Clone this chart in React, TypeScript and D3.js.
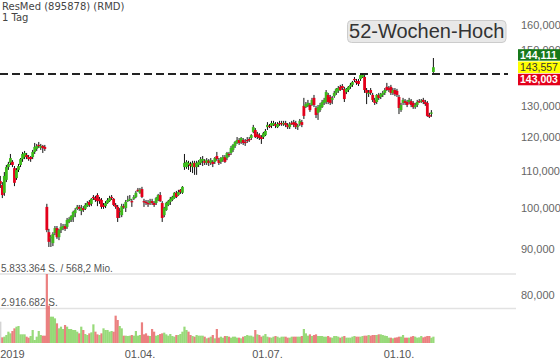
import React from 'react';
import * as d3 from 'd3';

// daily candles, late Dec 2018 .. 25 Oct 2019 (EUR)
const opens = [
  107.2, 106.1, 104.0, 107.5, 111.1, 112.3, 112.6, 110.8, 108.0, 110.3,
  111.7, 113.4, 114.0, 114.6, 114.0, 114.0, 114.0, 115.5, 116.4, 117.6,
  116.7, 117.3, 117.0, 100.3, 94.0, 92.8, 91.4, 93.8, 95.0, 92.8,
  94.5, 95.0, 95.5, 95.3, 96.5, 97.0, 97.7, 98.7, 99.8, 100.3,
  99.3, 100.0, 99.8, 100.5, 101.6, 101.1, 102.9, 102.6, 103.4, 102.4,
  102.1, 100.8, 100.5, 101.3, 101.8, 102.9, 102.4, 100.8, 100.3, 99.3,
  98.2, 100.5, 100.0, 101.8, 102.1, 101.8, 102.4, 102.9, 104.8, 104.0,
  105.0, 101.8, 101.6, 101.3, 101.3, 101.8, 101.3, 101.3, 102.1, 103.4,
  101.3, 98.2, 99.5, 100.8, 101.6, 102.1, 102.6, 104.0, 103.4, 104.8,
  104.0, 111.1, 111.1, 111.7, 112.0, 111.1, 112.3, 111.1, 111.7, 112.3,
  112.9, 112.9, 112.3, 112.9, 112.3, 112.6, 112.6, 114.3, 113.1, 112.6,
  113.1, 114.0, 113.7, 114.9, 115.2, 116.1, 117.3, 118.2, 119.1, 118.5,
  119.1, 118.5, 119.1, 119.4, 119.7, 121.6, 122.2, 120.9, 120.6, 120.0,
  120.0, 120.6, 123.1, 123.5, 123.5, 123.8, 124.1, 123.1, 124.4, 124.4,
  124.1, 124.4, 123.8, 123.1, 124.4, 124.7, 124.4, 123.5, 124.1, 124.7,
  130.0, 129.6, 130.0, 130.3, 130.3, 132.7, 129.3, 127.7, 128.6, 129.6,
  131.0, 131.3, 133.7, 133.0, 132.0, 133.3, 134.4, 135.1, 136.5, 136.8,
  135.8, 134.7, 135.4, 136.5, 137.2, 139.3, 138.6, 138.6, 139.3, 140.0,
  140.0, 135.4, 134.4, 135.4, 133.7, 132.0, 131.3, 133.7, 133.0, 133.7,
  134.4, 136.5, 136.1, 136.5, 134.4, 135.4, 135.1, 133.0, 128.6, 131.0,
  131.6, 131.3, 131.3, 131.6, 131.0, 129.6, 130.3, 131.6, 131.6, 132.0,
  131.3, 131.0, 127.0, 127.7, 141.8,
];

const highs = [
  108.6, 106.9, 109.7, 111.7, 112.6, 114.9, 113.1, 111.4, 110.8, 112.0,
  113.7, 115.5, 115.8, 115.2, 114.6, 114.3, 116.1, 118.2, 117.9, 118.5,
  117.9, 117.6, 117.6, 101.1, 94.8, 93.3, 94.0, 95.5, 95.5, 94.8,
  96.2, 96.0, 96.0, 97.5, 97.7, 98.2, 99.3, 100.0, 100.8, 100.8,
  100.8, 100.5, 101.3, 101.8, 102.1, 102.6, 103.4, 103.2, 103.9, 102.9,
  102.6, 101.3, 101.8, 102.6, 103.2, 103.4, 102.6, 101.3, 100.8, 100.0,
  101.1, 101.1, 102.1, 103.2, 103.4, 102.4, 103.4, 104.5, 105.3, 105.3,
  105.6, 102.4, 102.1, 102.1, 102.4, 102.4, 101.8, 102.9, 103.7, 104.2,
  101.8, 100.3, 101.6, 102.1, 102.9, 103.2, 104.2, 104.5, 104.8, 105.0,
  105.8, 114.9, 113.1, 112.9, 112.6, 112.9, 112.9, 112.9, 113.1, 114.0,
  114.3, 113.4, 113.7, 113.4, 113.7, 113.1, 114.0, 115.5, 113.7, 114.0,
  114.6, 114.6, 115.5, 115.5, 117.3, 117.9, 118.8, 120.0, 119.7, 120.0,
  119.7, 119.4, 120.0, 120.0, 120.9, 123.8, 122.8, 121.6, 121.2, 120.6,
  121.6, 122.5, 124.7, 124.1, 125.1, 125.1, 124.7, 124.7, 125.1, 125.1,
  125.1, 125.1, 124.4, 124.7, 125.1, 125.4, 125.1, 124.1, 125.7, 125.4,
  132.7, 131.3, 132.0, 131.0, 132.7, 133.7, 130.0, 130.3, 131.0, 132.0,
  132.7, 135.4, 134.4, 133.7, 133.3, 135.1, 136.1, 136.8, 137.2, 137.5,
  136.5, 136.1, 136.8, 137.9, 138.6, 140.0, 139.3, 139.3, 141.1, 141.1,
  140.7, 136.1, 135.4, 136.1, 134.4, 132.7, 134.0, 134.4, 134.4, 135.1,
  136.1, 137.9, 136.8, 137.2, 136.1, 136.1, 135.8, 133.7, 131.0, 132.7,
  132.3, 132.0, 132.7, 132.3, 131.6, 131.0, 132.0, 132.3, 132.3, 132.7,
  132.0, 131.6, 127.7, 128.6, 147.0,
];

const lows = [
  105.3, 102.6, 103.2, 106.9, 110.3, 111.7, 111.1, 105.8, 107.5, 109.7,
  111.1, 112.6, 113.4, 113.4, 112.9, 112.6, 113.4, 114.9, 115.8, 116.7,
  116.1, 115.2, 115.8, 94.0, 90.5, 90.5, 90.7, 93.3, 92.4, 92.1,
  93.8, 94.5, 94.3, 94.8, 96.2, 96.5, 96.5, 97.7, 99.5, 99.3,
  98.2, 99.0, 99.5, 100.3, 100.3, 100.5, 102.1, 101.6, 100.5, 101.1,
  99.8, 99.8, 100.0, 101.1, 101.6, 102.1, 100.5, 99.8, 96.5, 97.5,
  97.7, 99.8, 99.0, 101.6, 101.8, 100.3, 102.1, 102.6, 104.2, 103.7,
  102.6, 100.3, 100.8, 100.3, 100.8, 100.8, 100.3, 100.8, 101.8, 101.6,
  96.5, 97.7, 99.3, 100.5, 100.8, 101.8, 102.4, 102.6, 103.2, 103.7,
  103.7, 110.3, 110.6, 110.3, 109.7, 109.4, 108.9, 108.9, 111.1, 111.7,
  111.4, 111.7, 111.7, 111.4, 111.7, 111.1, 112.0, 112.9, 111.7, 112.0,
  112.6, 112.3, 113.1, 114.0, 114.6, 115.5, 116.7, 117.9, 117.6, 117.9,
  117.6, 117.3, 118.2, 118.5, 119.1, 121.2, 119.7, 119.4, 119.1, 117.9,
  119.4, 120.3, 122.2, 122.8, 122.8, 123.5, 122.8, 122.8, 123.5, 123.5,
  123.5, 123.1, 122.5, 122.5, 123.8, 123.1, 122.5, 122.2, 123.5, 123.1,
  125.7, 129.3, 129.6, 128.0, 130.0, 129.6, 126.0, 125.4, 128.0, 129.3,
  130.3, 130.6, 130.6, 130.3, 130.6, 132.7, 133.7, 134.4, 135.1, 135.4,
  131.3, 134.0, 134.7, 135.8, 136.5, 138.2, 137.2, 136.8, 138.6, 139.7,
  134.4, 130.6, 133.0, 133.7, 131.3, 130.3, 130.6, 132.0, 132.3, 133.0,
  133.7, 135.1, 134.7, 133.7, 133.7, 133.3, 133.0, 127.3, 128.0, 130.3,
  130.3, 129.6, 130.6, 129.6, 129.0, 129.0, 129.6, 131.0, 131.0, 130.6,
  130.0, 126.4, 126.0, 126.4, 141.5,
];

const closes = [
  106.4, 103.4, 108.6, 111.1, 112.0, 113.7, 111.7, 106.7, 110.3, 111.4,
  113.4, 114.9, 115.2, 114.0, 113.4, 113.4, 115.5, 117.0, 117.3, 117.3,
  117.3, 116.7, 116.4, 94.5, 91.7, 92.8, 93.6, 95.0, 92.8, 94.5,
  95.3, 95.5, 94.8, 97.0, 97.2, 98.0, 99.0, 99.5, 100.3, 99.8,
  100.0, 99.5, 100.8, 101.3, 100.8, 102.4, 102.6, 102.1, 101.8, 101.8,
  100.3, 100.3, 101.3, 102.1, 102.6, 102.6, 100.8, 100.3, 97.5, 99.0,
  100.5, 100.3, 101.6, 102.1, 102.4, 101.6, 102.9, 104.0, 104.5, 104.8,
  102.9, 101.6, 101.3, 101.2, 101.8, 101.3, 100.8, 102.6, 103.4, 101.8,
  97.5, 100.0, 101.3, 101.8, 102.4, 102.9, 104.0, 102.9, 104.2, 104.2,
  105.6, 112.3, 112.6, 112.3, 111.4, 112.3, 111.1, 112.3, 112.6, 113.4,
  113.4, 112.3, 113.1, 112.3, 113.1, 112.0, 113.7, 113.4, 112.3, 113.7,
  114.0, 112.6, 115.2, 114.7, 116.7, 117.6, 118.5, 119.1, 118.2, 119.7,
  118.2, 118.2, 118.9, 119.1, 120.6, 123.1, 120.0, 120.0, 119.7, 119.4,
  121.2, 121.9, 123.8, 123.3, 124.4, 124.4, 123.5, 124.1, 124.1, 124.1,
  124.4, 123.8, 123.1, 124.1, 124.3, 123.8, 123.1, 123.6, 125.1, 123.8,
  126.7, 130.6, 131.0, 128.6, 132.0, 130.3, 127.0, 129.6, 130.3, 131.3,
  132.0, 134.7, 131.3, 131.0, 132.7, 134.4, 135.8, 136.1, 135.4, 136.1,
  132.3, 135.8, 136.5, 137.2, 138.2, 139.1, 137.9, 137.5, 140.7, 140.7,
  135.4, 134.4, 134.5, 134.4, 132.0, 131.0, 133.7, 132.7, 134.0, 134.4,
  135.4, 135.4, 135.4, 134.4, 135.4, 134.0, 133.7, 129.3, 130.3, 132.0,
  131.0, 130.3, 132.0, 130.3, 129.6, 130.3, 131.3, 131.5, 131.8, 131.3,
  130.6, 126.7, 126.4, 127.8, 143.557,
];

// volume in thousand shares
const volumes = [
  1803, 480, 535, 676, 958, 817, 1015, 1240, 1381, 1437,
  733, 733, 733, 535, 451, 592, 1099, 254, 535, 1015,
  676, 620, 620, 5833.364, 3156, 2226, 2226, 2085, 1662, 1240,
  1381, 1184, 1522, 1381, 1184, 1184, 1099, 1099, 958, 817,
  1381, 1099, 761, 676, 817, 902, 1578, 958, 733, 676,
  817, 1240, 1099, 1099, 958, 1015, 958, 2311, 1944, 1437,
  1240, 620, 620, 592, 620, 676, 620, 1015, 620, 676,
  1747, 733, 817, 620, 592, 1184, 958, 620, 676, 761,
  817, 874, 733, 620, 761, 592, 535, 676, 676, 761,
  958, 1381, 1099, 958, 676, 592, 535, 676, 620, 620,
  620, 535, 395, 451, 535, 676, 395, 1184, 451, 535,
  451, 592, 592, 535, 451, 535, 535, 451, 451, 395,
  535, 592, 676, 620, 620, 535, 1099, 733, 676, 535,
  620, 761, 535, 479, 451, 535, 592, 535, 451, 535,
  535, 535, 451, 451, 535, 535, 535, 535, 535, 592,
  1184, 817, 620, 733, 592, 676, 733, 592, 592, 592,
  535, 535, 592, 479, 451, 592, 592, 535, 451, 535,
  592, 451, 451, 451, 535, 592, 535, 535, 535, 592,
  620, 620, 676, 620, 676, 676, 676, 733, 733, 676,
  620, 592, 451, 451, 395, 451, 479, 535, 535, 676,
  451, 451, 451, 535, 592, 535, 451, 479, 592, 479,
  535, 592, 592, 451, 535,
];

// 140,000 sits fully under the quote boxes in the original, so it is left out
const priceTicks = [80, 90, 100, 110, 120, 130, 150, 160];
const dateLabels = ['2019', '01.04.', '01.07.', '01.10.'];
const dateLabelAt = [6, 69, 132, 197];
const quoteValues = [144.111, 143.557, 143.003];
const turnoverMio = 568.2;
const title = 'ResMed (895878) (RMD)';
const period = '1 Tag';
const badge = '52-Wochen-Hoch';

const de = d3.formatLocale({ decimal: ',', thousands: '.', grouping: [3], currency: ['', ' €'] });
const fmtPrice = de.format('.3f');
const fmtInt = de.format(',d');
const fmtOne = de.format('.1f');

const FONT = '"Liberation Sans", Arial, sans-serif';
const UP = '#3cba1c';
const DOWN = '#e3001b';

export default function App() {
  const n = Math.min(opens.length, highs.length, lows.length, closes.length);
  const x = d3.scaleLinear().domain([0, n - 1]).range([0.3, 433.4]);
  const y = d3.scaleLog().domain([80, 160]).range([295, 25]);
  const volMax = d3.max(volumes) as number;
  const yv = d3.scaleLinear().domain([0, volMax]).range([343, 274]);
  const prevHigh = d3.max(highs.slice(0, n - 1)) as number;

  const boxH = 11.5;
  const yc = y(quoteValues[1]);
  const boxTops = [yc - boxH * 1.5 - 0.8, yc - boxH / 2, yc + boxH / 2 + 0.8];
  const boxFill = ['#17791a', '#ffff00', DOWN];
  const boxText = ['#ffffff', '#333333', '#ffffff'];

  const idx = d3.range(n);

  return (
    <svg
      width={560}
      height={363}
      style={{ position: 'absolute', left: 0, top: 0, display: 'block', background: '#fff' }}
      fontFamily={FONT}
    >
      {/* volume panel grid */}
      <line x1={0} x2={516} y1={yv(volMax)} y2={yv(volMax)} stroke="#e2e2e2" strokeWidth={1.5} />
      <line x1={0} x2={516} y1={yv(volMax / 2)} y2={yv(volMax / 2)} stroke="#e2e2e2" strokeWidth={1.5} />
      <text x={1} y={yv(volMax) - 2} fontSize={10} fill="#555">
        {`${fmtInt(Math.round(volMax * 1000))} S. / ${fmtOne(turnoverMio)} Mio.`}
      </text>
      <text x={1} y={yv(volMax / 2) - 2.5} fontSize={10} fill="#555">
        {`${fmtInt(Math.round((volMax * 1000) / 2))} S.`}
      </text>

      {/* volume bars, coloured by close vs previous close */}
      {volumes.slice(0, n).map((v, i) => {
        const fill = i === 0 ? '#cccccc' : closes[i] >= closes[i - 1] ? '#86d463' : '#e86a6a';
        return (
          <rect
            key={'v' + i}
            x={x(i) - 1.1}
            y={yv(v)}
            width={2.2}
            height={yv(0) - yv(v)}
            fill={fill}
            fillOpacity={0.85}
          />
        );
      })}

      {/* y axis labels */}
      {priceTicks.map((t) => (
        <text key={'t' + t} x={521} y={y(t) + 4} fontSize={11} fill="#666">
          {fmtPrice(t)}
        </text>
      ))}

      {/* previous 52-week high */}
      <line x1={0} x2={508} y1={y(prevHigh)} y2={y(prevHigh)} stroke="#222" strokeWidth={2} strokeDasharray="8,4" />

      {/* candles */}
      {idx.map((i) => {
        const cx = x(i);
        const up = closes[i] >= opens[i];
        const top = y(Math.max(opens[i], closes[i]));
        const bot = y(Math.min(opens[i], closes[i]));
        return (
          <g key={'c' + i}>
            <line x1={cx} x2={cx} y1={y(highs[i])} y2={y(lows[i])} stroke="#111" strokeWidth={1} />
            <rect x={cx - 1.4} y={top} width={2.8} height={Math.max(1.2, bot - top)} fill={up ? UP : DOWN} />
          </g>
        );
      })}

      {/* x axis labels */}
      {dateLabels.map((d, k) => (
        <text key={d} x={x(dateLabelAt[k])} y={358} fontSize={11} fill="#555" textAnchor="middle">
          {d}
        </text>
      ))}

      {/* quote boxes */}
      {quoteValues.map((q, k) => (
        <g key={'q' + k}>
          <rect x={518} y={boxTops[k]} width={42} height={boxH} fill={boxFill[k]} />
          <text
            x={520}
            y={boxTops[k] + 9.4}
            fontSize={10.5}
            fontWeight={k === 1 ? 'normal' : 'bold'}
            fill={boxText[k]}
          >
            {fmtPrice(q)}
          </text>
        </g>
      ))}

      {/* badge */}
      <rect x={347.5} y={20.5} width={158.5} height={22} rx={4} fill="#e8e8e8" stroke="#cccccc" />
      <text x={426.7} y={37.5} fontSize={20} fill="#333" textAnchor="middle">
        {badge}
      </text>

      {/* title */}
      <text x={2} y={10} fontSize={10} fill="#444" fontFamily='"DejaVu Sans", sans-serif'>
        {title}
      </text>
      <text x={2} y={21} fontSize={10} fill="#444" fontFamily='"DejaVu Sans", sans-serif'>
        {period}
      </text>
    </svg>
  );
}
